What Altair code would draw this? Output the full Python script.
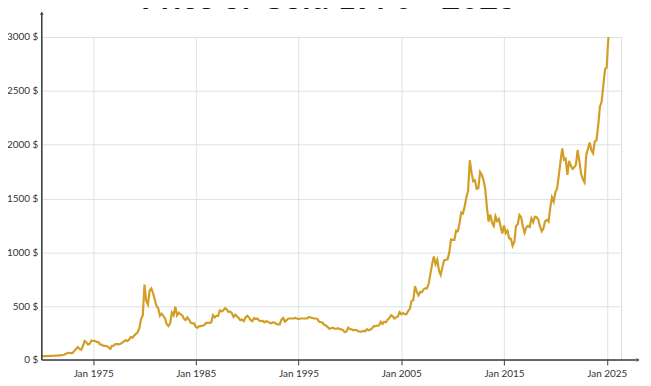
import altair as alt
import pandas as pd

months = [1, 3, 5, 7, 9, 11]
prices_by_year = {
    1970: [36, 36, 36, 36, 37, 38],
    1971: [38, 39, 40, 41, 42, 43],
    1972: [46, 48, 54, 65, 66, 63],
    1973: [65, 84, 102, 120, 103, 94],
    1974: [129, 175, 163, 143, 151, 181],
    1975: [176, 178, 167, 166, 144, 142],
    1976: [131, 132, 128, 117, 104, 131],
    1977: [133, 148, 147, 144, 150, 161],
    1978: [173, 183, 176, 188, 212, 206],
    1979: [227, 242, 257, 297, 380, 415],
    1980: [700, 550, 515, 645, 665, 620],
    1981: [560, 500, 480, 410, 430, 410],
    1982: [385, 330, 315, 340, 440, 415],
    1983: [495, 415, 440, 425, 415, 385],
    1984: [370, 395, 375, 345, 340, 340],
    1985: [305, 300, 315, 315, 320, 325],
    1986: [345, 345, 345, 350, 415, 395],
    1987: [410, 410, 460, 450, 460, 480],
    1988: [470, 445, 450, 435, 400, 420],
    1989: [405, 390, 370, 375, 360, 395],
    1990: [410, 395, 370, 360, 390, 380],
    1991: [385, 365, 360, 365, 350, 360],
    1992: [355, 345, 340, 350, 345, 335],
    1993: [330, 330, 375, 390, 355, 370],
    1994: [385, 385, 385, 385, 390, 385],
    1995: [380, 385, 385, 385, 385, 385],
    1996: [400, 395, 390, 385, 385, 380],
    1997: [355, 350, 345, 325, 320, 305],
    1998: [290, 295, 300, 290, 290, 295],
    1999: [285, 285, 275, 258, 265, 300],
    2000: [285, 285, 275, 280, 275, 265],
    2001: [262, 265, 270, 268, 285, 275],
    2002: [282, 295, 315, 315, 320, 320],
    2003: [355, 335, 355, 350, 375, 390],
    2004: [415, 405, 385, 395, 405, 445],
    2005: [425, 435, 425, 425, 455, 475],
    2006: [550, 555, 685, 635, 600, 630],
    2007: [630, 655, 665, 665, 710, 800],
    2008: [890, 960, 890, 930, 830, 790],
    2009: [860, 925, 930, 935, 995, 1120],
    2010: [1115, 1115, 1200, 1195, 1270, 1370],
    2011: [1360, 1425, 1510, 1570, 1855, 1740],
    2012: [1660, 1670, 1590, 1595, 1745, 1720],
    2013: [1670, 1590, 1415, 1285, 1350, 1275],
    2014: [1245, 1335, 1290, 1310, 1240, 1175],
    2015: [1250, 1180, 1200, 1130, 1125, 1060],
    2016: [1095, 1245, 1260, 1345, 1325, 1240],
    2017: [1180, 1230, 1245, 1235, 1315, 1280],
    2018: [1330, 1325, 1305, 1240, 1195, 1220],
    2019: [1290, 1300, 1285, 1415, 1510, 1470],
    2020: [1560, 1590, 1715, 1845, 1965, 1860],
    2021: [1870, 1720, 1850, 1805, 1775, 1790],
    2022: [1815, 1950, 1850, 1730, 1680, 1650],
    2023: [1900, 1960, 2020, 1950, 1920, 2030],
    2024: [2040, 2180, 2350, 2400, 2550, 2700],
}
months_2025 = [1, 2, 3]
prices_2025 = [2720, 2880, 3000]

y_ticks = [0, 500, 1000, 1500, 2000, 2500, 3000]
x_ticks = [1975, 1985, 1995, 2005, 2015, 2025]
title_text = "Price of Gold 1970 - 2025"

rows = []
for yr, vals in prices_by_year.items():
    for m, v in zip(months, vals):
        rows.append({"t": yr + (m - 1) / 12, "price": v})
for m, v in zip(months_2025, prices_2025):
    rows.append({"t": 2025 + (m - 1) / 12, "price": v})
df = pd.DataFrame(rows)

W, H = 583, 325
FONT = "Lato"
AX = "#3a3a3a"
one = pd.DataFrame({"a": [0]})

x_scale = alt.Scale(domain=[1970, 2026.4], nice=False, zero=False)
y_scale = alt.Scale(domain=[0, 3000], nice=False)

line = alt.Chart(df).mark_line(color="#d29e25", strokeWidth=2.2).encode(
    x=alt.X("t:Q", scale=x_scale, title=None,
            axis=alt.Axis(values=x_ticks, labelExpr="'Jan ' + datum.value",
                          domain=False, ticks=True, tickSize=5, tickColor=AX,
                          tickWidth=1, labelPadding=4, labelFont=FONT,
                          labelFontSize=10, labelColor="#333",
                          gridColor="#dbe2e8", gridWidth=1)),
    y=alt.Y("price:Q", scale=y_scale, title=None,
            axis=alt.Axis(values=y_ticks, labelExpr="datum.value + ' $'",
                          domain=False, ticks=False, labelPadding=4,
                          labelFont=FONT, labelFontSize=10, labelColor="#333",
                          gridColor="#dbe2e8", gridWidth=1)),
)

y_axis_line = alt.Chart(one).mark_rule(color=AX, strokeWidth=1.5).encode(
    x=alt.value(0), y=alt.value(H), y2=alt.value(-23))
x_axis_line = alt.Chart(one).mark_rule(color=AX, strokeWidth=1.5).encode(
    x=alt.value(0), x2=alt.value(598), y=alt.value(H))
y_arrow = alt.Chart(one).mark_point(shape="triangle-up", filled=True,
                                    color=AX, size=14, opacity=1).encode(
    x=alt.value(0), y=alt.value(-24))
x_arrow = alt.Chart(one).mark_point(shape="triangle-right", filled=True,
                                    color=AX, size=14, opacity=1).encode(
    x=alt.value(600), y=alt.value(H))
title = alt.Chart(one).mark_text(text=title_text, font=FONT, fontSize=33,
                                 fontWeight="bold", color="#111",
                                 align="center", baseline="alphabetic").encode(
    x=alt.value(289), y=alt.value(-28))

chart = alt.layer(line, y_axis_line, x_axis_line, y_arrow, x_arrow, title).properties(
    width=W, height=H,
    autosize=alt.AutoSizeParams(type="none"),
    padding={"left": 34, "top": 28, "right": 22, "bottom": 18},
).configure_view(stroke=None).configure(background="white")

chart.save("out.html", embed_options={"renderer": "svg", "actions": False})
